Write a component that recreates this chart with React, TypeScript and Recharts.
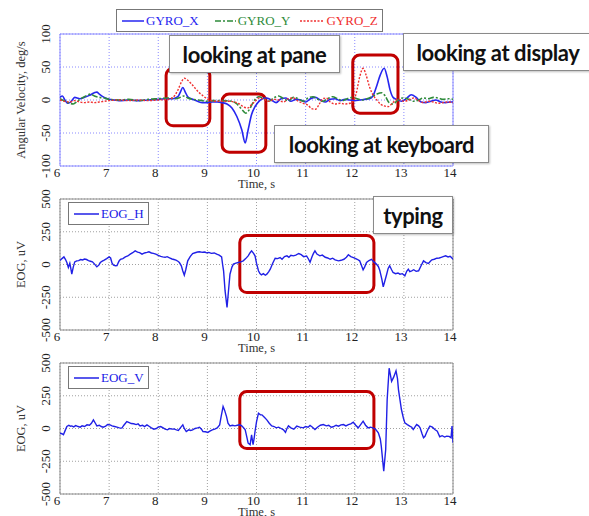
import React from 'react';
import {
  LineChart, Line, XAxis, YAxis, CartesianGrid, ReferenceArea, Legend,
} from 'recharts';

const FONT = '"Liberation Serif", "Times New Roman", serif';
const NOTE_FONT = 'Lato, "Open Sans", sans-serif';

// ---------- data ----------
const X_TICKS = [6, 7, 8, 9, 10, 11, 12, 13, 14];
const GYRO_TICKS = [-100, -50, 0, 50, 100];
const EOG_TICKS = [-500, -250, 0, 250, 500];

// [time s, angular velocity deg/s]
const GYRO_X: number[][] = [[6.00,4],[6.05,6],[6.10,0],[6.15,-5],[6.20,-4],[6.25,0],[6.30,4],[6.35,3],[6.40,2],[6.50,4],[6.60,7],[6.70,11],[6.75,12],[6.80,9],[6.90,4],[7.00,1],[7.10,0],[7.20,-1],[7.40,0],[7.60,-1],[7.80,0],[8.00,1],[8.20,2],[8.30,2],[8.40,5],[8.45,12],[8.50,19],[8.55,12],[8.60,5],[8.70,1],[8.80,-2],[8.90,-4],[9.00,-4],[9.10,-3],[9.20,-3],[9.30,-4],[9.40,-6],[9.50,-12],[9.60,-25],[9.70,-45],[9.77,-65],[9.83,-45],[9.90,-22],[9.97,-10],[10.05,-2],[10.10,1],[10.20,3],[10.30,0],[10.40,-4],[10.50,2],[10.60,3],[10.70,-2],[10.80,1],[10.90,0],[11.00,-3],[11.10,2],[11.20,4],[11.30,0],[11.40,-3],[11.50,1],[11.60,2],[11.70,-1],[11.80,1],[11.90,0],[12.00,-1],[12.10,0],[12.20,1],[12.30,2],[12.37,6],[12.45,22],[12.52,38],[12.60,48],[12.66,35],[12.72,15],[12.78,4],[12.85,1],[12.95,-2],[13.05,2],[13.15,8],[13.25,4],[13.35,-3],[13.45,-4],[13.55,-2],[13.65,0],[13.75,-3],[13.85,-4],[13.95,-3],[14.00,-3]];

const GYRO_Y: number[][] = [[6.00,2],[6.10,-2],[6.20,-5],[6.27,-6],[6.35,-2],[6.45,3],[6.55,7],[6.62,9],[6.70,6],[6.80,4],[6.90,3],[7.00,1],[7.20,0],[7.40,1],[7.60,-1],[7.80,1],[8.00,2],[8.20,3],[8.35,2],[8.45,4],[8.52,6],[8.60,3],[8.70,1],[8.80,0],[8.90,-1],[9.00,-2],[9.10,-1],[9.30,-1],[9.50,-2],[9.60,-6],[9.70,-14],[9.78,-20],[9.85,-15],[9.92,-5],[10.00,3],[10.05,5],[10.15,2],[10.25,-2],[10.35,3],[10.45,6],[10.55,2],[10.65,-1],[10.75,4],[10.85,2],[10.95,-2],[11.05,3],[11.15,5],[11.25,1],[11.35,-2],[11.45,2],[11.55,5],[11.65,2],[11.75,-1],[11.85,2],[11.95,4],[12.05,2],[12.15,0],[12.25,2],[12.35,5],[12.45,9],[12.55,11],[12.62,6],[12.70,-4],[12.78,-6],[12.88,0],[12.98,3],[13.10,1],[13.20,-2],[13.30,0],[13.40,3],[13.50,2],[13.60,4],[13.70,3],[13.80,1],[13.90,2],[14.00,1]];

const GYRO_Z: number[][] = [[6.00,0],[6.10,-2],[6.20,-3],[6.30,-1],[6.40,-3],[6.50,-4],[6.60,-3],[6.70,-4],[6.80,-3],[6.90,-2],[7.00,-1],[7.20,0],[7.40,-1],[7.60,0],[7.80,-1],[8.00,0],[8.20,1],[8.30,4],[8.40,15],[8.47,27],[8.53,33],[8.60,30],[8.67,25],[8.75,18],[8.82,12],[8.90,7],[8.97,3],[9.05,0],[9.15,-2],[9.30,-2],[9.45,-2],[9.55,-3],[9.65,-6],[9.75,-11],[9.82,-12],[9.90,-7],[9.97,-2],[10.05,3],[10.15,1],[10.25,-2],[10.35,1],[10.45,0],[10.55,-3],[10.65,2],[10.75,3],[10.85,-2],[10.95,-5],[11.05,-8],[11.12,-13],[11.20,-14],[11.28,-6],[11.35,2],[11.42,3],[11.50,-3],[11.60,-6],[11.70,-5],[11.80,-6],[11.90,-5],[11.97,-2],[12.03,10],[12.10,35],[12.17,48],[12.23,38],[12.30,20],[12.37,8],[12.45,0],[12.52,-6],[12.60,-9],[12.68,-10],[12.75,-6],[12.82,-1],[12.90,1],[13.00,-2],[13.10,0],[13.20,3],[13.30,-1],[13.40,-4],[13.50,-2],[13.60,-3],[13.70,-5],[13.80,-4],[13.90,-3],[14.00,-4]];

// [time s, EOG uV]
const EOG_H: number[][] = [[6.00,30],[6.04,45],[6.08,58],[6.11,40],[6.14,15],[6.17,-23],[6.20,10],[6.22,-30],[6.24,-74],[6.27,-20],[6.30,20],[6.34,28],[6.38,30],[6.42,38],[6.46,35],[6.50,42],[6.54,38],[6.58,30],[6.62,25],[6.66,20],[6.70,5],[6.75,-18],[6.79,-5],[6.82,15],[6.86,25],[6.90,33],[6.95,45],[7.00,58],[7.03,50],[7.06,10],[7.09,-5],[7.13,-10],[7.16,-8],[7.20,25],[7.23,40],[7.28,45],[7.33,58],[7.38,65],[7.43,79],[7.48,90],[7.53,104],[7.58,95],[7.62,90],[7.67,79],[7.72,88],[7.77,92],[7.81,97],[7.86,88],[7.90,85],[7.95,79],[8.00,70],[8.05,62],[8.09,58],[8.14,55],[8.18,60],[8.23,50],[8.28,42],[8.32,38],[8.36,33],[8.40,25],[8.43,15],[8.47,-10],[8.50,-50],[8.53,-81],[8.56,-40],[8.60,28],[8.65,60],[8.70,84],[8.75,90],[8.80,95],[8.84,97],[8.90,93],[8.95,95],[8.98,89],[9.03,92],[9.08,85],[9.14,88],[9.19,79],[9.24,72],[9.29,58],[9.31,0],[9.33,-48],[9.36,-200],[9.40,-328],[9.43,-200],[9.46,-74],[9.50,-20],[9.53,3],[9.58,10],[9.63,15],[9.68,20],[9.73,28],[9.78,45],[9.83,66],[9.87,90],[9.90,104],[9.94,85],[9.97,66],[10.00,10],[10.04,-48],[10.07,-70],[10.10,-79],[10.14,-70],[10.18,-82],[10.21,-74],[10.25,-55],[10.28,-36],[10.33,10],[10.38,48],[10.43,45],[10.48,53],[10.52,40],[10.57,60],[10.62,66],[10.66,55],[10.70,70],[10.75,66],[10.80,72],[10.86,84],[10.91,75],[10.96,60],[11.02,65],[11.06,40],[11.09,18],[11.13,60],[11.16,85],[11.19,104],[11.23,80],[11.29,66],[11.34,72],[11.40,55],[11.45,50],[11.50,40],[11.55,48],[11.60,35],[11.67,28],[11.72,32],[11.78,40],[11.83,55],[11.87,74],[11.92,60],[11.96,55],[12.00,48],[12.05,40],[12.10,28],[12.13,0],[12.17,-41],[12.20,-20],[12.24,15],[12.29,30],[12.34,40],[12.39,20],[12.44,3],[12.48,-15],[12.51,-46],[12.55,-110],[12.58,-170],[12.61,-130],[12.65,-74],[12.68,-30],[12.71,-10],[12.75,-40],[12.78,-61],[12.83,-70],[12.88,-65],[12.92,-74],[12.97,-70],[13.02,-86],[13.06,-50],[13.09,-36],[13.12,-55],[13.16,-48],[13.20,-40],[13.25,-52],[13.30,-48],[13.35,-10],[13.40,28],[13.45,15],[13.50,8],[13.54,25],[13.57,36],[13.62,40],[13.67,48],[13.72,50],[13.76,55],[13.80,60],[13.85,66],[13.90,58],[13.94,62],[13.97,53],[14.00,40]];

const EOG_V: number[][] = [[6.00,-36],[6.04,-40],[6.07,-48],[6.10,-20],[6.14,15],[6.18,25],[6.21,18],[6.24,20],[6.28,12],[6.32,22],[6.37,15],[6.41,10],[6.45,20],[6.50,15],[6.55,28],[6.60,25],[6.64,40],[6.68,66],[6.72,40],[6.75,20],[6.80,25],[6.84,15],[6.88,10],[6.93,18],[6.97,30],[7.02,28],[7.06,20],[7.11,15],[7.16,10],[7.21,5],[7.26,3],[7.30,25],[7.36,53],[7.41,45],[7.45,38],[7.50,36],[7.55,30],[7.59,35],[7.63,20],[7.68,25],[7.72,15],[7.77,28],[7.82,15],[7.86,5],[7.91,-5],[7.96,0],[8.00,10],[8.05,15],[8.10,5],[8.14,-5],[8.19,-10],[8.23,0],[8.28,-5],[8.32,-3],[8.37,-10],[8.41,-15],[8.45,5],[8.50,28],[8.53,0],[8.57,-23],[8.62,-10],[8.66,-15],[8.70,-10],[8.75,0],[8.80,5],[8.84,10],[8.88,-5],[8.91,-23],[8.96,-25],[9.01,-30],[9.05,-20],[9.10,-10],[9.15,-5],[9.20,5],[9.25,28],[9.28,90],[9.32,168],[9.35,140],[9.39,91],[9.42,40],[9.46,20],[9.51,25],[9.56,20],[9.61,25],[9.66,28],[9.70,20],[9.74,5],[9.77,-10],[9.80,-60],[9.83,-112],[9.87,-124],[9.90,-48],[9.93,-124],[9.95,-80],[9.97,-23],[10.00,50],[10.04,117],[10.08,105],[10.11,104],[10.16,85],[10.21,66],[10.26,40],[10.31,20],[10.36,15],[10.40,5],[10.45,10],[10.50,0],[10.55,-10],[10.59,-30],[10.62,0],[10.65,20],[10.70,5],[10.76,-5],[10.82,18],[10.88,10],[10.95,5],[11.00,15],[11.05,10],[11.09,23],[11.14,10],[11.19,-8],[11.24,10],[11.30,25],[11.36,30],[11.42,20],[11.47,25],[11.52,10],[11.56,13],[11.62,25],[11.67,18],[11.72,28],[11.77,30],[11.82,20],[11.87,30],[11.92,35],[11.97,48],[12.02,25],[12.07,5],[12.12,30],[12.17,56],[12.22,25],[12.27,5],[12.32,10],[12.37,5],[12.42,-5],[12.48,-33],[12.52,-80],[12.54,-135],[12.59,-325],[12.63,-160],[12.66,221],[12.70,460],[12.72,420],[12.75,360],[12.79,390],[12.84,440],[12.87,380],[12.89,297],[12.92,220],[12.95,145],[12.99,80],[13.02,43],[13.07,30],[13.12,18],[13.16,10],[13.19,-8],[13.23,15],[13.26,30],[13.30,20],[13.33,5],[13.37,-40],[13.40,-71],[13.43,-60],[13.46,-33],[13.50,0],[13.53,18],[13.58,10],[13.63,-8],[13.68,-20],[13.73,-63],[13.78,-55],[13.83,-65],[13.87,-58],[13.92,-60],[13.96,-71],[13.98,18],[14.00,-109]];

const toRows = (pairs: number[][]) => pairs.map(([t, v]) => ({ t, v }));

// ---------- helpers ----------
const RotTick = (props: any) => {
  const { x, y, payload } = props;
  return (
    <text x={x} y={y} transform={`rotate(-90 ${x} ${y})`} textAnchor="middle"
      fontSize={13} fontFamily={FONT} fill="#222">{payload.value}</text>
  );
};

const YTitle = (props: any) => {
  const { viewBox, text } = props;
  const cx = viewBox.x + 1;
  const cy = viewBox.y + viewBox.height / 2;
  return (
    <text x={cx} y={cy} transform={`rotate(-90 ${cx} ${cy})`} textAnchor="middle"
      dominantBaseline="central" fontSize={12.5} fontFamily={FONT} fill="#333">{text}</text>
  );
};

const XTitle = (props: any) => {
  const { viewBox } = props;
  return (
    <text x={viewBox.x + viewBox.width / 2} y={viewBox.y + 22} textAnchor="middle"
      fontSize={12.5} fontFamily={FONT} fill="#333">Time, s</text>
  );
};

const RedBox = (props: any) => {
  const { x, y, width, height } = props;
  return <rect x={x} y={y} width={width} height={height} rx={7} ry={7}
    fill="none" stroke="#c00000" strokeWidth={3} />;
};

type Item = { name: string; color: string; dash?: string; sample: number; gap?: number };

const LegendBox = ({ items }: { items: Item[] }) => (
  <div style={{
    display: 'flex', alignItems: 'center', background: '#fff', border: '1px solid #777',
    padding: '0 4px 0 5px', height: 21, fontFamily: FONT, fontSize: 13, whiteSpace: 'nowrap',
  }}>
    {items.map((it, i) => (
      <div key={it.name} style={{ display: 'flex', alignItems: 'center', marginLeft: i === 0 ? 0 : (it.gap ?? 16) }}>
        <svg width={it.sample} height={10} style={{ marginRight: 2 }}>
          <line x1={0} y1={5} x2={it.sample} y2={5} stroke={it.color} strokeWidth={1.5} strokeDasharray={it.dash} />
        </svg>
        <span style={{ color: it.color }}>{it.name}</span>
      </div>
    ))}
  </div>
);

const Note = ({ left, top, width, height, text }: any) => (
  <div style={{
    position: 'absolute', left, top, width, height, boxSizing: 'border-box', background: '#fff',
    border: '1px solid #8a8a8a', boxShadow: '1px 1px 2px rgba(0,0,0,0.25)', display: 'flex',
    alignItems: 'center', justifyContent: 'center', fontFamily: NOTE_FONT, fontWeight: 700,
    fontSize: 22, color: '#111', whiteSpace: 'nowrap', letterSpacing: -0.4,
  }}>{text}</div>
);

const W = 589;
const MARGIN_L = 20;
const AXIS_W = 40;
const MARGIN_R = 136;

type Series = { key: string; data: number[][]; color: string; dash?: string; width: number; curve: 'monotone' | 'linear' };

function Panel(props: {
  top: number; plotHeight: number; domain: [number, number]; ticks: number[]; yLabel: string;
  series: Series[]; legend: Item[]; legendPos: { left: number; top: number };
  frame: string; grid: string; boxes: { x1: number; x2: number; y1: number; y2: number }[];
}) {
  const H = 200;
  return (
    <div style={{ position: 'absolute', left: 0, top: props.top, width: W, height: H }}>
      <LineChart width={W} height={H}
        margin={{ top: 34, right: MARGIN_R, left: MARGIN_L, bottom: H - 34 - props.plotHeight - 30 }}>
        <CartesianGrid stroke={props.grid} strokeDasharray="1 2" />
        <XAxis dataKey="t" type="number" domain={[6, 14]} ticks={X_TICKS} allowDataOverflow
          height={30} tickSize={0} tickMargin={2} axisLine={false}
          tick={{ fontSize: 13, fill: '#222', fontFamily: FONT, dx: -3 }} label={<XTitle />} />
        <YAxis type="number" domain={props.domain} ticks={props.ticks} allowDataOverflow width={AXIS_W}
          tickSize={0} tickMargin={10} axisLine={false} tick={<RotTick />}
          label={<YTitle text={props.yLabel} />} />
        {props.series.map((s) => (
          <Line key={s.key} name={s.key} data={toRows(s.data)} dataKey="v" type={s.curve}
            stroke={s.color} strokeWidth={s.width} strokeDasharray={s.dash} dot={false}
            activeDot={false} isAnimationActive={false} />
        ))}
        <ReferenceArea x1={6} x2={14} y1={props.domain[0]} y2={props.domain[1]}
          fill="none" fillOpacity={0} stroke={props.frame} strokeWidth={1} ifOverflow="visible" />
        {props.boxes.map((b, i) => (
          <ReferenceArea key={i} x1={b.x1} x2={b.x2} y1={b.y1} y2={b.y2} ifOverflow="visible"
            shape={<RedBox />} />
        ))}
        <Legend layout="horizontal" verticalAlign="middle" align="center"
          wrapperStyle={{ left: props.legendPos.left, top: props.legendPos.top, width: 'auto' }}
          content={() => <LegendBox items={props.legend} />} />
      </LineChart>
    </div>
  );
}

export default function App() {
  return (
    <div style={{ position: 'fixed', left: 0, top: 0, width: W, height: 516, overflow: 'hidden', background: '#fff' }}>
      <Panel top={0} plotHeight={132} domain={[-100, 100]} ticks={GYRO_TICKS}
        yLabel="Angular Velocity, deg/s" frame="#8a8aff" grid="#8a8aff"
        series={[
          { key: 'GYRO_X', data: GYRO_X, color: '#2626f0', width: 1.6, curve: 'monotone' },
          { key: 'GYRO_Y', data: GYRO_Y, color: '#2e8b3a', dash: '6 2 2 2', width: 1.6, curve: 'monotone' },
          { key: 'GYRO_Z', data: GYRO_Z, color: '#f03030', dash: '2 1.5', width: 1.4, curve: 'monotone' },
        ]}
        legend={[
          { name: 'GYRO_X', color: '#2626f0', sample: 22 },
          { name: 'GYRO_Y', color: '#2e8b3a', dash: '6 2 2 2', sample: 21, gap: 16 },
          { name: 'GYRO_Z', color: '#f03030', dash: '2 1.5', sample: 24, gap: 10 },
        ]}
        legendPos={{ left: 116, top: 9 }}
        boxes={[
          { x1: 8.16, x2: 9.05, y1: -39, y2: 48 },
          { x1: 9.30, x2: 10.19, y1: -79, y2: 9 },
          { x1: 11.96, x2: 12.88, y1: -20, y2: 68 },
        ]} />
      <Panel top={165} plotHeight={131} domain={[-500, 500]} ticks={EOG_TICKS}
        yLabel="EOG, uV" frame="#8c8c8c" grid="#a0a0a0"
        series={[{ key: 'EOG_H', data: EOG_H, color: '#2020e6', width: 1.4, curve: 'linear' }]}
        legend={[{ name: 'EOG_H', color: '#2020e6', sample: 25 }]}
        legendPos={{ left: 68, top: 37 }}
        boxes={[{ x1: 9.66, x2: 12.39, y1: -214, y2: 221 }]} />
      <Panel top={329} plotHeight={131} domain={[-500, 500]} ticks={EOG_TICKS}
        yLabel="EOG, uV" frame="#8c8c8c" grid="#a0a0a0"
        series={[{ key: 'EOG_V', data: EOG_V, color: '#2020e6', width: 1.4, curve: 'linear' }]}
        legend={[{ name: 'EOG_V', color: '#2020e6', sample: 25 }]}
        legendPos={{ left: 68, top: 37 }}
        boxes={[{ x1: 9.66, x2: 12.39, y1: -153, y2: 282 }]} />
      <Note left={169} top={35} width={171} height={38} text="looking at pane" />
      <Note left={403} top={33} width={190} height={38} text="looking at display" />
      <Note left={274} top={125} width={215} height={38} text="looking at keyboard" />
      <Note left={373} top={196} width={80} height={38} text="typing" />
    </div>
  );
}
